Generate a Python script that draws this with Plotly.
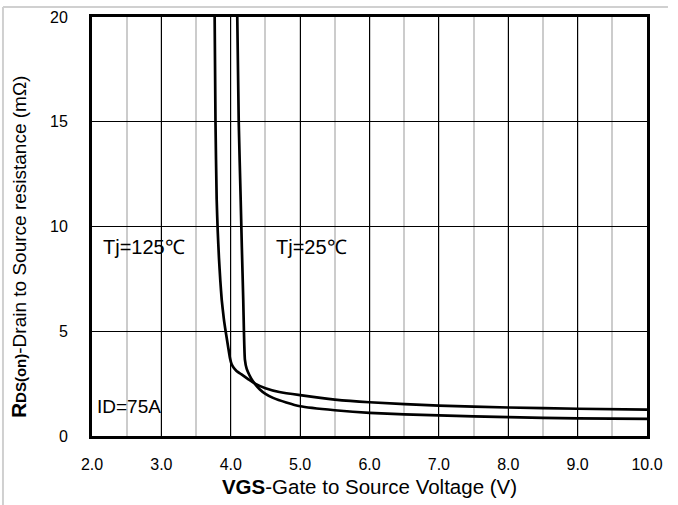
import plotly.graph_objects as go

# Tj = 125 C curve
v_125 = [3.768, 3.78, 3.797, 3.812, 3.83, 3.85, 3.87, 3.90, 3.926, 3.96, 3.99, 4.01, 4.04, 4.08, 4.15, 4.25, 4.35, 4.5, 4.7, 5.0, 5.5, 6.0, 7.0, 8.0, 9.0, 10.0]
r_125 = [20.0, 15.0, 11.3, 9.8, 8.5, 7.4, 6.5, 5.6, 5.0, 4.3, 3.7, 3.45, 3.27, 3.12, 2.95, 2.72, 2.5, 2.28, 2.1, 1.95, 1.74, 1.61, 1.45, 1.36, 1.30, 1.26]

# Tj = 25 C curve
v_25 = [4.094, 4.115, 4.143, 4.16, 4.18, 4.19, 4.204, 4.23, 4.27, 4.32, 4.42, 4.5, 4.61, 4.8, 5.0, 5.5, 6.0, 7.0, 8.0, 9.0, 10.0]
r_25 = [20.0, 15.0, 11.3, 9.0, 6.5, 5.0, 3.65, 3.2, 2.9, 2.61, 2.22, 2.01, 1.82, 1.6, 1.42, 1.23, 1.10, 0.98, 0.90, 0.84, 0.82]

x_ticks = [2, 3, 4, 5, 6, 7, 8, 9, 10]
x_tick_labels = ["2.0", "3.0", "4.0", "5.0", "6.0", "7.0", "8.0", "9.0", "10.0"]
y_ticks = [0, 5, 10, 15, 20]

FONT = "Liberation Sans, Arial, sans-serif"

fig = go.Figure()
fig.add_trace(go.Scatter(x=v_125, y=r_125, mode="lines", line=dict(color="black", width=2.7, shape="spline", smoothing=0.5),
                         name="Tj=125℃", showlegend=False))
fig.add_trace(go.Scatter(x=v_25, y=r_25, mode="lines", line=dict(color="black", width=2.7, shape="spline", smoothing=0.5),
                         name="Tj=25℃", showlegend=False))

fig.update_layout(
    width=678, height=505,
    margin=dict(l=92, r=31, t=17, b=69),
    paper_bgcolor="white", plot_bgcolor="white",
    font=dict(family=FONT, color="black"),
    xaxis=dict(
        range=[2, 10], tickvals=x_ticks, ticktext=x_tick_labels,
        showgrid=True, gridcolor="black", gridwidth=1,
        minor=dict(dtick=0.5, showgrid=True, gridcolor="#cccccc", gridwidth=1.5),
        showline=True, linecolor="black", linewidth=3, mirror=True,
        ticks="", ticklabelstandoff=12, tickfont=dict(size=16),
        zeroline=False, automargin=False,
        title=dict(text="<b>VGS</b>-Gate to Source Voltage (V)", font=dict(size=20.5), standoff=8),
    ),
    yaxis=dict(
        range=[0, 20], tickvals=y_ticks,
        showgrid=True, gridcolor="black", gridwidth=1,
        showline=True, linecolor="black", linewidth=3, mirror=True,
        ticks="", ticklabelstandoff=18, tickfont=dict(size=16),
        zeroline=False, automargin=False,
    ),
)

# y-axis title drawn as rotated annotation so it can sit off-centre like the reference
fig.add_annotation(x=-0.1333, y=0.451, xref="paper", yref="paper", textangle=-90,
                   text="<b><span style='font-size:21px'>R</span><span style='font-size:15px'>DS(on)</span></b>-Drain to Source resistance (mΩ)",
                   showarrow=False, xanchor="center", yanchor="middle", font=dict(size=19))

fig.add_annotation(x=0.016, y=10, xref="paper", yref="y", text="Tj=125℃", showarrow=False,
                   xanchor="left", yanchor="middle", yshift=-20, font=dict(size=20))
fig.add_annotation(x=4.62, y=10, xref="x", yref="y", text="Tj=25℃", showarrow=False,
                   xanchor="left", yanchor="middle", yshift=-20, font=dict(size=20))
fig.add_annotation(x=0.006, y=1.4, xref="paper", yref="y", text="ID=75A", showarrow=False,
                   xanchor="left", yanchor="middle", font=dict(size=19))

# light outer frame
fig.add_shape(type="line", xref="paper", yref="paper", x0=-0.1604, x1=1.0378, y0=1.0239, y1=1.0239,
              line=dict(color="#d0d0d0", width=2))
fig.add_shape(type="line", xref="paper", yref="paper", x0=-0.1604, x1=-0.1604, y0=1.0239, y1=-0.2,
              line=dict(color="#d0d0d0", width=2))

fig.write_html("out.html", config={"displayModeBar": False},
               post_script="document.body.style.margin='0';")
